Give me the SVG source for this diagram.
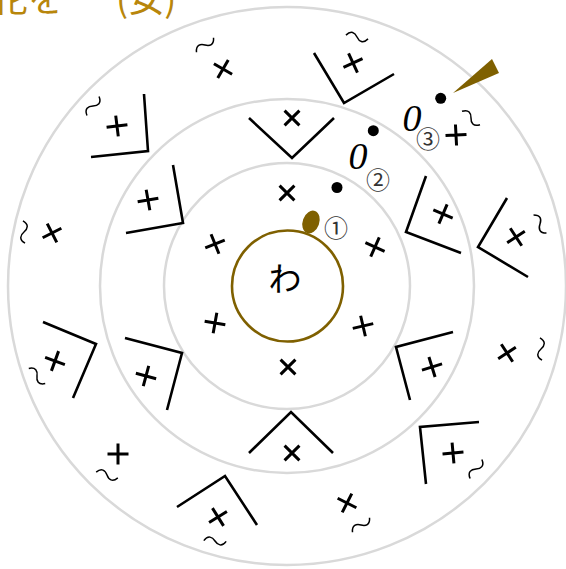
<svg xmlns="http://www.w3.org/2000/svg" xmlns:xlink="http://www.w3.org/1999/xlink" width="566" height="569" viewBox="0 0 566 569">
<style>
.ring{fill:none;stroke:#d9d9d9;stroke-width:2.5}
.br{fill:none;stroke:#000;stroke-width:2.6;stroke-linejoin:miter}
.cx{fill:none;stroke:#000;stroke-width:3}
.td{fill:none;stroke:#000;stroke-width:1.5}
.num{font-family:"Noto Sans CJK JP",sans-serif;font-size:24px;fill:#333;text-anchor:middle;dominant-baseline:central}
.zero{font-family:"Liberation Serif",serif;font-style:italic;font-size:38px;fill:#000;text-anchor:middle}
.gold{fill:#7f6000}
</style>
<defs>
<path id="x" class="cx" d="M-10.5,0H10.5M0,-10.5V10.5"/>
<path id="t" class="td" d="M-11,2 C-8,-4.5 -3.5,-3.5 0,0 S8,4.5 11,-2"/>
</defs>
<rect width="566" height="569" fill="#fff"/>
<g id="title">
<text x="-8" y="12" font-family="Noto Sans CJK JP,sans-serif" font-size="36" fill="#b8860b">花を</text>
<text x="116" y="12" font-family="Noto Sans CJK JP,sans-serif" font-size="36" fill="#b8860b">(女)</text>
</g>
<g id="rings">
<circle class="ring" cx="287" cy="286" r="279"/>
<circle class="ring" cx="287" cy="286" r="187"/>
<circle class="ring" cx="287" cy="286" r="123"/>
</g>
<g id="center">
<circle cx="287.5" cy="286" r="55.5" fill="none" stroke="#7f6000" stroke-width="2.6"/>
<ellipse class="gold" cx="311" cy="222" rx="8.3" ry="11.7" transform="rotate(20 311 222)"/>
<text x="285" y="277" font-family="Noto Sans CJK JP,sans-serif" font-size="33" text-anchor="middle" dominant-baseline="central" fill="#000">わ</text>
</g>
<g id="markers">
<circle cx="337" cy="187.5" r="5.5"/>
<text class="num" x="336" y="226">①</text>
<circle cx="373.3" cy="130.7" r="5.5"/>
<text class="zero" x="358" y="169">0</text>
<text class="num" x="378" y="178">②</text>
<circle cx="440.7" cy="98.3" r="5.5"/>
<text class="zero" x="412" y="131">0</text>
<text class="num" x="428" y="137">③</text>
<polygon class="gold" points="453,93 499,73 492,59"/>
</g>
<g id="ring1-crosses">
<use xlink:href="#x" transform="translate(287,193) rotate(45)"/>
<use xlink:href="#x" transform="translate(215,244) rotate(-22)"/>
<use xlink:href="#x" transform="translate(215,323) rotate(10)"/>
<use xlink:href="#x" transform="translate(375,247) rotate(24)"/>
<use xlink:href="#x" transform="translate(363,326) rotate(-13)"/>
<use xlink:href="#x" transform="translate(288,367) rotate(45)"/>
</g>
<g id="ring2">
<polyline class="br" points="249,118 292,158 334,118"/>
<use xlink:href="#x" transform="translate(292,118) rotate(45)"/>
<polyline class="br" points="173,165 183,223 126,233"/>
<use xlink:href="#x" transform="translate(148,200) rotate(-10)"/>
<polyline class="br" points="125,338 182,353 167,410"/>
<use xlink:href="#x" transform="translate(146,376) rotate(15)"/>
<polyline class="br" points="249,453 291,412 333,453"/>
<use xlink:href="#x" transform="translate(292,453) rotate(45)"/>
<polyline class="br" points="453,332 396,347 410,400"/>
<use xlink:href="#x" transform="translate(432,367) rotate(-17)"/>
<polyline class="br" points="426,176 406,232 461,253"/>
<use xlink:href="#x" transform="translate(443,214) rotate(23)"/>
</g>
<g id="ring3">
<use xlink:href="#x" transform="translate(223,69) rotate(30)"/>
<use xlink:href="#t" transform="translate(205,45) rotate(-30)"/>
<polyline class="br" points="314,53 344,103 394,74"/>
<use xlink:href="#x" transform="translate(353,63) rotate(-25)"/>
<use xlink:href="#t" transform="translate(357,37) rotate(20)"/>
<polyline class="br" points="144,94 148,151 91,157"/>
<use xlink:href="#x" transform="translate(117,126) rotate(-7)"/>
<use xlink:href="#t" transform="translate(93,106) rotate(-47)"/>
<use xlink:href="#x" transform="translate(52,233) rotate(-27)"/>
<use xlink:href="#t" transform="translate(24,232) rotate(95)"/>
<polyline class="br" points="43,322 96,344 73,398"/>
<use xlink:href="#x" transform="translate(55,361) rotate(20)"/>
<use xlink:href="#t" transform="translate(37,376) rotate(53)"/>
<use xlink:href="#x" transform="translate(118,454) rotate(0)"/>
<use xlink:href="#t" transform="translate(107,475) rotate(25)"/>
<polyline class="br" points="177,507 225,476 257,525"/>
<use xlink:href="#x" transform="translate(218,517) rotate(-32)"/>
<use xlink:href="#t" transform="translate(215,541) rotate(12)"/>
<use xlink:href="#x" transform="translate(347,503) rotate(27)"/>
<use xlink:href="#t" transform="translate(361,525) rotate(-30)"/>
<polyline class="br" points="479,422 420,427 426,484"/>
<use xlink:href="#x" transform="translate(453,453) rotate(-5)"/>
<use xlink:href="#t" transform="translate(476,469) rotate(-48)"/>
<use xlink:href="#x" transform="translate(507,353) rotate(-33)"/>
<use xlink:href="#t" transform="translate(541,349) rotate(95)"/>
<polyline class="br" points="507,198 478,247 528,277"/>
<use xlink:href="#x" transform="translate(516,237) rotate(-33)"/>
<use xlink:href="#t" transform="translate(540,224) rotate(65)"/>
<use xlink:href="#x" transform="translate(456,135) rotate(-3)"/>
<use xlink:href="#t" transform="translate(471,118) rotate(47)"/>
</g>
</svg>
